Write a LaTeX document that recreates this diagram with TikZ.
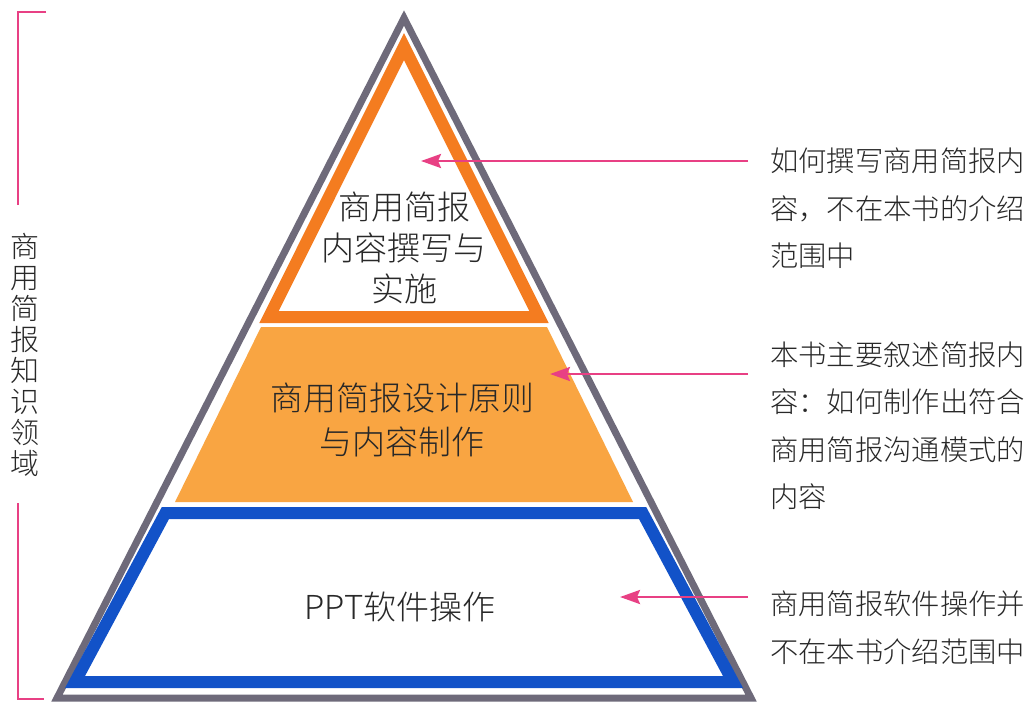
\documentclass[tikz,border=0pt]{standalone}
\usepackage{fontspec}
\setmainfont{Noto Sans CJK SC}[UprightFont={* Light}]
\usetikzlibrary{arrows.meta}
\definecolor{greyline}{RGB}{110,106,122}
\definecolor{orangeline}{RGB}{244,124,32}
\definecolor{orangefill}{RGB}{249,165,66}
\definecolor{blueline}{RGB}{18,82,200}
\definecolor{pinkline}{RGB}{232,64,132}
\definecolor{txt}{RGB}{40,40,40}
\begin{document}
\begin{tikzpicture}[x=1pt,y=-1pt,
  ptext/.style={inner sep=0pt, align=center, text=txt, font=\fontsize{33}{41}\selectfont},
  rtext/.style={inner sep=0pt, align=left, anchor=west, text=txt, font=\fontsize{28.3}{47.5}\selectfont},
  ltext/.style={inner sep=0pt, align=center, text=txt, font=\fontsize{29}{31}\selectfont},
  pinkarrow/.style={pinkline, line width=2.6pt, -{Stealth[length=20pt,width=14pt,inset=3pt]}},
  bracket/.style={pinkline, line width=2.6pt}]
\useasboundingbox (0,0) rectangle (1028,702);
\fill[white] (0,0) rectangle (1028,702);
% outer grey triangle
\draw[greyline, line width=7pt, line join=miter] (404,18) -- (751,698) -- (57,698) -- cycle;
% top orange triangle
\draw[orangeline, line width=12pt, line join=miter] (404,46.6) -- (539,317) -- (269,317) -- cycle;
% middle filled trapezoid
\fill[orangefill] (261,327) -- (547,327) -- (633,502) -- (175,502) -- cycle;
% bottom blue trapezoid
\draw[blueline, line width=12pt, line join=miter] (165.4,513) -- (642.6,513) -- (733,682) -- (75,682) -- cycle;
% texts in pyramid
\node[ptext] (t1) at (404,248) {商用简报\\内容撰写与\\实施};
\node[ptext, font=\fontsize{33}{44}\selectfont] (t2) at (402,420) {商用简报设计原则\\与内容制作};
\node[ptext] (t3) at (400,607) {PPT软件操作};
% right texts
\node[rtext] (r1) at (770,208.5) {如何撰写商用简报内\\容，不在本书的介绍\\范围中};
\node[rtext] (r2) at (770,426) {本书主要叙述简报内\\容：如何制作出符合\\商用简报沟通模式的\\内容};
\node[rtext] (r3) at (770,627.5) {商用简报软件操作并\\不在本书介绍范围中};
% arrows
\coordinate (a1s) at (748,161);
\coordinate (a1e) at (421,161);
\coordinate (a2s) at (748,374);
\coordinate (a2e) at (550,374);
\coordinate (a3s) at (748,597);
\coordinate (a3e) at (620,597);
\draw[pinkarrow] (a1s) -- (a1e);
\draw[pinkarrow] (a2s) -- (a2e);
\draw[pinkarrow] (a3s) -- (a3e);
% left bracket and label
\node[ltext] (lab) at (25,355) {商\\用\\简\\报\\知\\识\\领\\域};
\coordinate (b1a) at (46,12);
\coordinate (b1b) at (18,12);
\coordinate (b1c) at (18,205);
\coordinate (b2a) at (18,503);
\coordinate (b2b) at (18,699);
\coordinate (b2c) at (44,699);
\draw[bracket] (b1a) -- (b1b) -- (b1c);
\draw[bracket] (b2a) -- (b2b) -- (b2c);
\end{tikzpicture}
\end{document}
